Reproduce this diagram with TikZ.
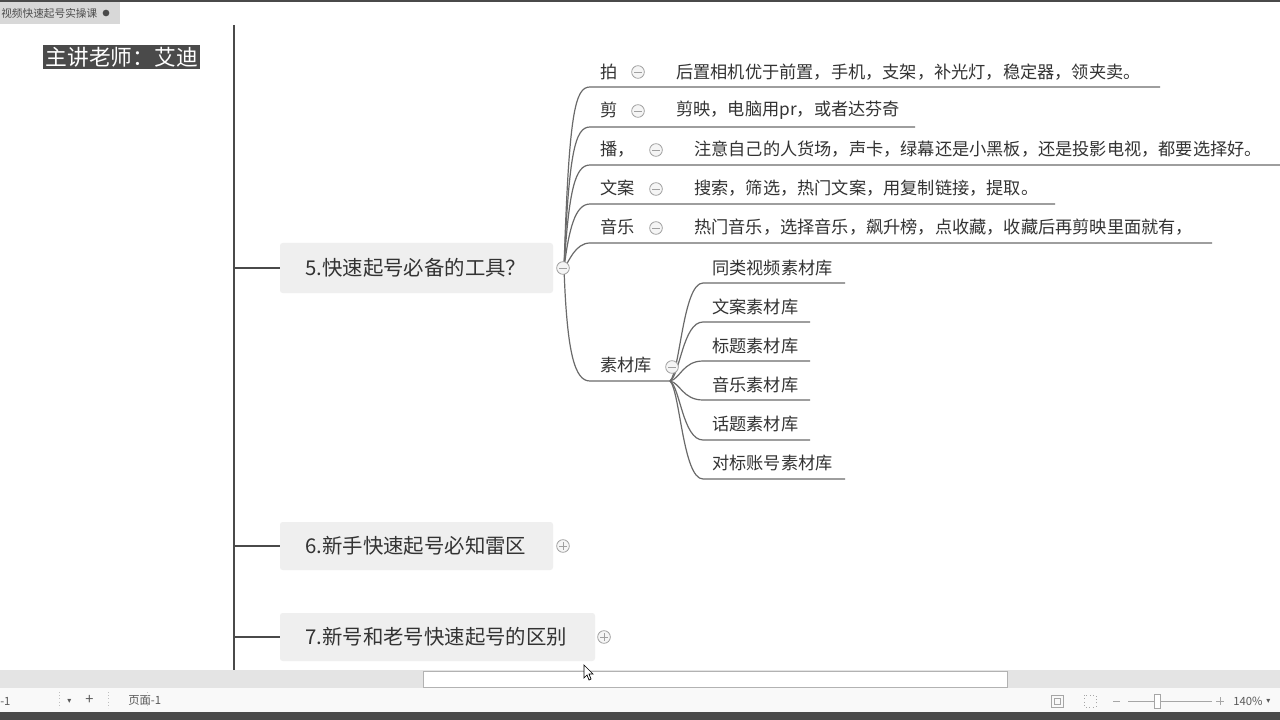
\documentclass[tikz,border=0pt]{standalone}
\usepackage{fontspec}
\setmainfont{Noto Sans CJK SC}
\newfontfamily\symfont{DejaVu Sans}
\definecolor{txtc}{HTML}{333333}
\definecolor{linec}{HTML}{6A6A6A}
\definecolor{trunkc}{HTML}{4A4A4A}
\definecolor{boxc}{HTML}{EFEFEF}
\definecolor{barc}{HTML}{D8D8D8}
\definecolor{iconc}{HTML}{A0A0A0}
\begin{document}
\begin{tikzpicture}[x=0.75pt,y=-0.75pt,
  txt/.style={anchor=west,inner sep=0pt,text=txtc,font=\fontsize{12.9}{14}\selectfont},
  topic/.style={anchor=west,inner sep=0pt,text=txtc,font=\fontsize{15.3}{17}\selectfont},
  topicbox/.style={fill=boxc,draw=none,rounded corners=2pt},
  conn/.style={draw=linec,line width=0.9pt},
  ctrunk/.style={draw=trunkc,line width=1.5pt},
  minusicon/.style={circle,draw=iconc,fill=gray!8,line width=0.6pt,minimum size=9.5pt,inner sep=0pt,
    path picture={\draw[iconc,line width=0.6pt] ([xshift=-2.8pt]path picture bounding box.center) -- ([xshift=2.8pt]path picture bounding box.center);}},
  plusicon/.style={circle,draw=iconc,fill=gray!8,line width=0.6pt,minimum size=9.5pt,inner sep=0pt,
    path picture={\draw[iconc,line width=0.6pt] ([xshift=-2.8pt]path picture bounding box.center) -- ([xshift=2.8pt]path picture bounding box.center) ([yshift=-2.8pt]path picture bounding box.center) -- ([yshift=2.8pt]path picture bounding box.center);}},
  stxt/.style={anchor=west,inner sep=0pt,text=gray!70!black,font=\fontsize{8.5}{10}\selectfont}
]
\useasboundingbox (0,0) rectangle (1280,720);
\fill[white] (0,0) rectangle (1280,720);
% top bar
\fill[trunkc] (0,0) rectangle (1280,2);
\fill[barc] (0,2) rectangle (120,24);
\node[stxt,font=\fontsize{8}{9}\selectfont,text=gray!60!black] (tabtitle) at (1,13) {视频快速起号实操课};
\node[circle,fill=trunkc,inner sep=0pt,minimum size=5pt] (tabdot) at (106,13) {};
% presenter label
\node[fill=trunkc,text=white,inner sep=1.8pt,anchor=west,font=\fontsize{16.3}{18}\selectfont] (teacher) at (43,57) {主讲老师：艾迪};
% trunk
\coordinate (ttop) at (234,25);
\coordinate (tbot) at (234,670);
\draw[ctrunk] (ttop) -- (tbot);
% topic boxes
\fill[topicbox] (280,243) rectangle (553,293);
\fill[topicbox] (280,522) rectangle (553,570);
\fill[topicbox] (280,613) rectangle (595,661);
\node[topic] (t5) at (305,268) {5.快速起号必备的工具？};
\node[topic] (t6) at (305,546) {6.新手快速起号必知雷区};
\node[topic] (t7) at (305,637) {7.新号和老号快速起号的区别};
\coordinate (b5) at (234,268);
\coordinate (b6) at (234,546);
\coordinate (b7) at (234,637);
\coordinate (t5l) at (280,268);
\coordinate (t6l) at (280,546);
\coordinate (t7l) at (280,637);
\draw[ctrunk,line width=1.2pt] (b5) -- (t5l);
\draw[ctrunk,line width=1.2pt] (b6) -- (t6l);
\draw[ctrunk,line width=1.2pt] (b7) -- (t7l);
\node[plusicon] (p6) at (563,546) {};
\node[plusicon] (p7) at (604,637) {};
% hub of topic 5
\coordinate (hub) at (564,268);
\coordinate (s1) at (590,87);   \coordinate (e1) at (1160,87);
\coordinate (s2) at (590,127);  \coordinate (e2) at (915,127);
\coordinate (s3) at (590,165);  \coordinate (e3) at (1280,165);
\coordinate (s4) at (590,204);  \coordinate (e4) at (1055,204);
\coordinate (s5) at (590,243);  \coordinate (e5) at (1212,243);
\coordinate (s6) at (590,381);  \coordinate (e6) at (670,381);
\draw[conn] (hub) .. controls (569,112) and (575,87) .. (s1) -- (e1);
\draw[conn] (hub) .. controls (569,152) and (575,127) .. (s2) -- (e2);
\draw[conn] (hub) .. controls (569,190) and (575,165) .. (s3) -- (e3);
\draw[conn] (hub) .. controls (569,229) and (575,204) .. (s4) -- (e4);
\draw[conn] (hub) .. controls (569,262) and (575,243) .. (s5) -- (e5);
\draw[conn] (hub) .. controls (567,355) and (575,381) .. (s6) -- (e6);
\node[minusicon] (m5) at (563,268) {};
% first level labels
\node[txt] (k1) at (600,72) {拍};
\node[txt] (k2) at (600,110) {剪};
\node[txt] (k3) at (600,149) {播，};
\node[txt] (k4) at (600,188) {文案};
\node[txt] (k5) at (600,227) {音乐};
\node[txt] (k6) at (600,365) {素材库};
\node[minusicon] (m1) at (638,72) {};
\node[minusicon] (m2) at (638,111) {};
\node[minusicon] (m3) at (656,150) {};
\node[minusicon] (m4) at (656,189) {};
\node[minusicon] (mm5) at (656,228) {};
\node[txt] (c1) at (676,72) {后置相机优于前置，手机，支架，补光灯，稳定器，领夹卖。};
\node[txt] (c2) at (676,110) {剪映，电脑用pr，或者达芬奇};
\node[txt] (c3) at (694,149) {注意自己的人货场，声卡，绿幕还是小黑板，还是投影电视，都要选择好。};
\node[txt] (c4) at (694,188) {搜索，筛选，热门文案，用复制链接，提取。};
\node[txt] (c5) at (694,227) {热门音乐，选择音乐，飙升榜，点收藏，收藏后再剪映里面就有，};
% material library sub-branches
\coordinate (hub2) at (670,381);
\coordinate (u1) at (703,283) ; \coordinate (v1) at (845,283);
\coordinate (u2) at (703,322) ; \coordinate (v2) at (810,322);
\coordinate (u3) at (703,361) ; \coordinate (v3) at (810,361);
\coordinate (u4) at (703,400) ; \coordinate (v4) at (810,400);
\coordinate (u5) at (703,440) ; \coordinate (v5) at (810,440);
\coordinate (u6) at (703,479) ; \coordinate (v6) at (845,479);
\draw[conn] (hub2) .. controls (680,372) and (683,283) .. (u1) -- (v1);
\draw[conn] (hub2) .. controls (680,375) and (683,322) .. (u2) -- (v2);
\draw[conn] (hub2) .. controls (680,379) and (683,361) .. (u3) -- (v3);
\draw[conn] (hub2) .. controls (680,383) and (683,400) .. (u4) -- (v4);
\draw[conn] (hub2) .. controls (680,387) and (683,440) .. (u5) -- (v5);
\draw[conn] (hub2) .. controls (680,391) and (683,479) .. (u6) -- (v6);
\node[minusicon] (m6) at (672,367) {};
\node[txt] (d1) at (712,268) {同类视频素材库};
\node[txt] (d2) at (712,307) {文案素材库};
\node[txt] (d3) at (712,346) {标题素材库};
\node[txt] (d4) at (712,385) {音乐素材库};
\node[txt] (d5) at (712,424) {话题素材库};
\node[txt] (d6) at (712,463) {对标账号素材库};
% scrollbar
\fill[barc!70!white] (0,670) rectangle (1280,688);
\draw[fill=white,draw=gray!60] (423,671) rectangle (1007,687);
% status bar
\fill[gray!5] (0,688) rectangle (1280,712);
\fill[trunkc] (0,712) rectangle (1280,720);
\node[stxt] (sb1) at (0,701) {-1};
\node[stxt,font=\symfont\fontsize{6}{7}\selectfont] (sb2) at (67,701) {▾};
\node[stxt,font=\fontsize{11}{12}\selectfont] (sb3) at (85,700) {+};
\node[stxt] (sb4) at (128,701) {页面-1};
\draw[gray!50,dotted] (59,692) -- (59,708) (108,692) -- (108,708) (147,692) -- (147,708);
\draw[gray!70,line width=0.6pt] (1051,695) rectangle (1063,707);
\draw[gray!70,line width=0.6pt] (1054,698) rectangle (1060,704);
\draw[gray!70,line width=0.6pt,dotted] (1084,695) rectangle (1096,707);
\draw[gray!70,line width=0.6pt] (1113,701) -- (1120,701) (1128,701) -- (1212,701) (1216,701) -- (1224,701) (1220,697) -- (1220,705);
\draw[gray!70,fill=white,line width=0.6pt] (1154,694) rectangle (1160,708);
\node[stxt] (sb5) at (1233,701) {140\%};
\node[stxt,font=\symfont\fontsize{6}{7}\selectfont] (sb6) at (1266,701) {▾};
% cursor
\draw[fill=white,draw=black,line width=0.5pt] (584,665) -- (584,678) -- (587,675) -- (589,680) -- (591,679) -- (589,674) -- (593,674) -- cycle;
\end{tikzpicture}
\end{document}
